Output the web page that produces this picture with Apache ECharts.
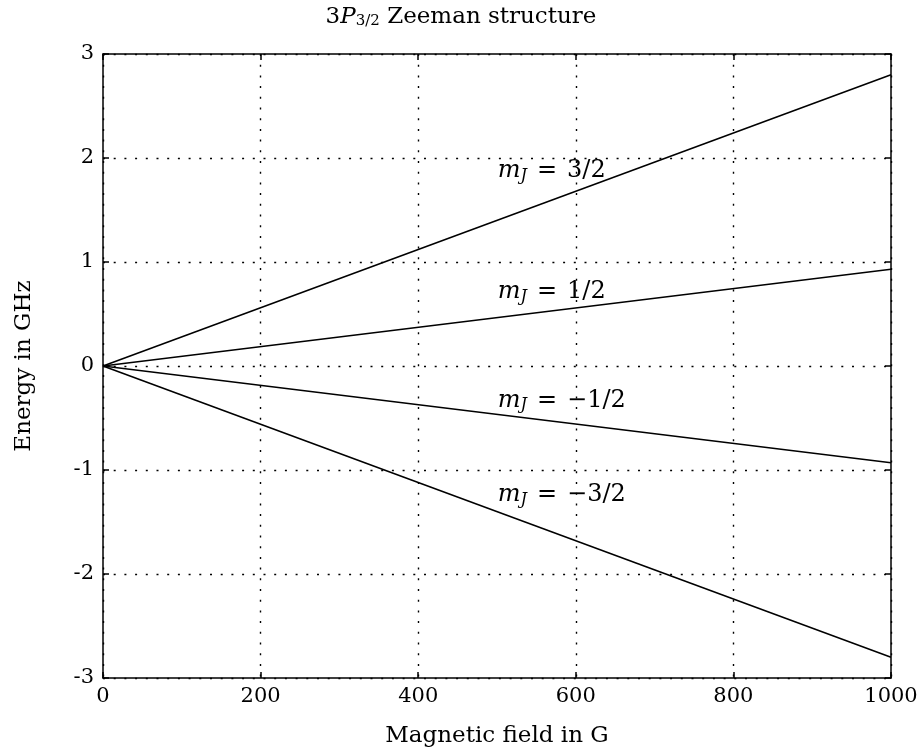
<!DOCTYPE html>
<html>
<head>
<meta charset="utf-8">
<script src="https://cdn.jsdelivr.net/npm/echarts@6/dist/echarts.min.js"></script>
<style>
	html, body { margin: 0; padding: 0; background: #fff; }
	#chart { width: 922px; height: 751px; }
</style>
</head>
<body>
<div id="chart"></div>
<script>
// magnetic field (G) and energy (GHz) per m_J level
const fieldG = [0, 1000];
const mj32 = [0, 2.8];
const mj12 = [0, 0.93];
const mjm12 = [0, -0.93];
const mjm32 = [0, -2.8];
const levelNames = ['3/2', '1/2', '\u22121/2', '\u22123/2'];
// where the m_J labels sit, in data coords
const labelAt = [[501, 1.88], [501, 0.71], [501, -0.33], [501, -1.24]];

const serif = 'DejaVu Serif';
const fs = 21;
const chart = echarts.init(document.getElementById('chart'));

const levels = [mj32, mj12, mjm12, mjm32];
const series = levels.map((vals, k) => ({
	type: 'line',
	data: fieldG.map((x, i) => [x, vals[i]]),
	symbol: 'none',
	lineStyle: { color: '#000', width: 1.6 },
	silent: true,
	markPoint: {
		symbolSize: 0,
		data: [{ coord: labelAt[k] }],
		label: {
			show: true,
			position: 'right',
			distance: 0,
			formatter: '{i|m}{s|J}{e|=}{n|' + levelNames[k] + '}',
			rich: {
				i: { fontFamily: serif, fontStyle: 'italic', fontSize: 24, color: '#000' },
				s: { fontFamily: serif, fontStyle: 'italic', fontSize: 16, color: '#000', padding: [10, 0, 0, 0] },
				e: { fontFamily: serif, fontSize: 24, color: '#000', padding: [0, 10, 0, 10] },
				n: { fontFamily: serif, fontSize: 24, color: '#000' },
			},
		},
	},
}));

//坐标轴公共样式
const axisBase = {
	type: 'value',
	axisLine: { show: true, onZero: false, lineStyle: { color: '#000', width: 1.5 } },
	axisTick: { show: true, inside: true, length: 6, lineStyle: { color: '#000', width: 1.5 } },
	axisLabel: { fontFamily: serif, fontSize: fs, color: '#000', formatter: (v) => String(v) },
};
const dotted = { show: true, lineStyle: { color: '#000', type: [2, 8.7], width: 1.4 } };

chart.setOption({
	animation: false,
	title: {
		text: '{n|3}{i|P}{s|3/2}{n| Zeeman structure}',
		left: 'center',
		top: 0,
		textStyle: {
			fontWeight: 'normal',
			rich: {
				n: { fontFamily: serif, fontSize: 23, fontWeight: 'normal', color: '#000' },
				i: { fontFamily: serif, fontStyle: 'italic', fontSize: 23, fontWeight: 'normal', color: '#000' },
				s: { fontFamily: serif, fontSize: 15, fontWeight: 'normal', color: '#000', padding: [9, 0, 0, 0] },
			},
		},
	},
	grid: { left: 103, right: 31, top: 54, bottom: 73, outerBoundsMode: 'none' },
	xAxis: [
		{
			...axisBase,
			min: 0,
			max: 1000,
			interval: 200,
			name: 'Magnetic field in G',
			nameLocation: 'middle',
			nameGap: 47,
			nameTextStyle: { fontFamily: serif, fontSize: 23, color: '#000' },
			axisLabel: { ...axisBase.axisLabel, margin: 8 },
			splitLine: dotted,
		},
		{
			...axisBase,
			position: 'top',
			min: 0,
			max: 1000,
			interval: 200,
			axisLabel: { show: false },
			splitLine: { show: false },
		},
	],
	yAxis: [
		{
			...axisBase,
			min: -3,
			max: 3,
			interval: 1,
			name: 'Energy in GHz',
			nameLocation: 'middle',
			nameGap: 67,
			nameTextStyle: { fontFamily: serif, fontSize: 23, color: '#000' },
			axisLabel: { ...axisBase.axisLabel, margin: 9 },
			splitLine: dotted,
		},
		{
			...axisBase,
			position: 'right',
			min: -3,
			max: 3,
			interval: 1,
			axisLabel: { show: false },
			splitLine: { show: false },
		},
	],
	series: series,
});
</script>
</body>
</html>
